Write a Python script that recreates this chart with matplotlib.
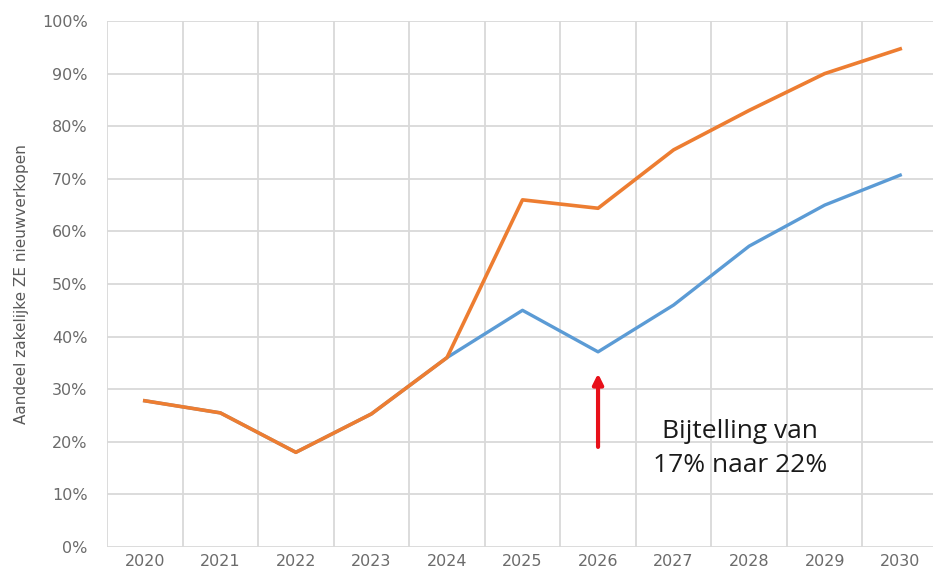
import matplotlib
matplotlib.use("Agg")
import matplotlib.pyplot as plt
from matplotlib.ticker import FixedLocator, PercentFormatter

years = [2020, 2021, 2022, 2023, 2024, 2025, 2026, 2027, 2028, 2029, 2030]
orange_vals = [27.8, 25.5, 18.0, 25.3, 36.0, 66.0, 64.4, 75.5, 83.0, 90.0, 94.7]
blue_vals = [27.8, 25.5, 18.0, 25.3, 36.0, 45.0, 37.1, 46.0, 57.2, 65.0, 70.7]
y_ticks = [0, 10, 20, 30, 40, 50, 60, 70, 80, 90, 100]
annot_text = "Bijtelling van\n17% naar 22%"
arrow_year = 2026

fig = plt.figure(figsize=(9.33, 5.73), dpi=100)
ax = fig.add_axes([107/933, 26/573, 831/933, 526/573])

ax.plot(years, blue_vals, color="#5B9BD5", lw=2.4, solid_joinstyle="round", zorder=3)
ax.plot(years, orange_vals, color="#ED7D31", lw=2.6, solid_joinstyle="round", zorder=4)

ax.set_xlim(years[0] - 0.5, years[-1] + 0.5)
ax.set_ylim(0, 100)
ax.set_xticks(years)
ax.set_xticklabels([str(y) for y in years])
ax.xaxis.set_minor_locator(FixedLocator([y - 0.5 for y in years] + [years[-1] + 0.5]))
ax.set_yticks(y_ticks)
ax.yaxis.set_major_formatter(PercentFormatter(decimals=0))

ax.grid(True, which="major", axis="y", color="#D9D9D9", lw=1.3)
ax.grid(True, which="minor", axis="x", color="#D9D9D9", lw=1.3)
ax.grid(False, which="major", axis="x")
ax.set_axisbelow(True)
for s in ax.spines.values():
    s.set_visible(False)
ax.tick_params(axis="both", which="both", length=0, colors="#6B6B6B", labelsize=11.5)
ax.tick_params(axis="y", pad=14)
ax.tick_params(axis="x", pad=5)

ax.set_ylabel("Aandeel zakelijke ZE nieuwverkopen", color="#595959", fontsize=11, labelpad=9)

ax.annotate("", xy=(arrow_year, 33.5), xytext=(arrow_year, 18.5),
            arrowprops=dict(arrowstyle="-|>,head_length=0.6,head_width=0.3",
                            color="#E8101A", lw=3), zorder=5)
ax.text(2027.88, 18.7, annot_text, ha="center", va="center", fontsize=19,
        color="#1A1A1A", linespacing=1.45, family="Open Sans", weight="medium")

fig.savefig("out.png", dpi=100)
